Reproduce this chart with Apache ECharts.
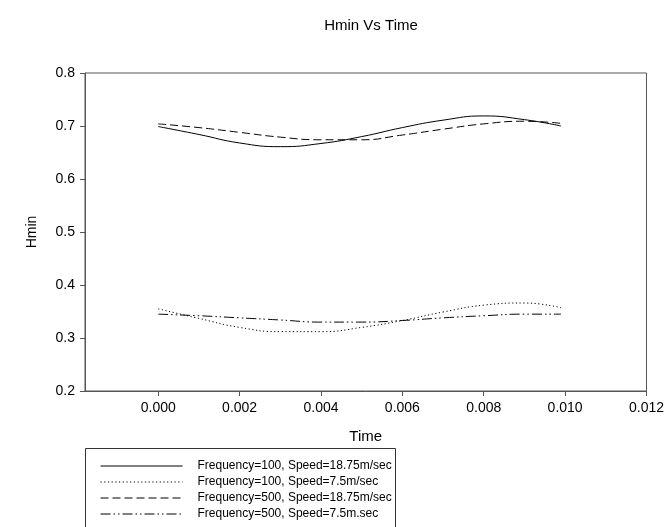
<!DOCTYPE html>
<html>
<head>
    <meta charset="UTF-8"/>
    <title>Hmin Vs Time</title>
    <script type="text/javascript" src="https://cdn.jsdelivr.net/npm/echarts@6/dist/echarts.min.js"></script>
    <style>
        html, body { margin: 0; padding: 0; background: #fff; }
        #chart { width: 667px; height: 527px; }
    </style>
</head>
<body>
<div id="chart"></div>
<script>
    // time samples (s)
    var time = [0, 0.001, 0.002, 0.003, 0.004, 0.005, 0.006, 0.007, 0.008, 0.009, 0.0099];
    // Hmin values
    var f100s1875 = [0.699, 0.684, 0.668, 0.661, 0.667, 0.680, 0.697, 0.711, 0.719, 0.712, 0.700];
    var f100s75   = [0.355, 0.337, 0.320, 0.312, 0.312, 0.320, 0.333, 0.349, 0.362, 0.366, 0.357];
    var f500s1875 = [0.704, 0.697, 0.688, 0.679, 0.674, 0.674, 0.683, 0.694, 0.704, 0.709, 0.705];
    var f500s75   = [0.345, 0.342, 0.338, 0.334, 0.330, 0.330, 0.333, 0.338, 0.342, 0.345, 0.345];
    var names = [
        'Frequency=100, Speed=18.75m/sec',
        'Frequency=100, Speed=7.5m/sec',
        'Frequency=500, Speed=18.75m/sec',
        'Frequency=500, Speed=7.5m.sec'
    ];
    var xTicks = [0, 0.002, 0.004, 0.006, 0.008, 0.010, 0.012];

    var font = 'Liberation Sans';
    function pairs(ys) {
        var out = [];
        for (var i = 0; i < time.length; i++) out.push([time[i], ys[i]]);
        return out;
    }
    function line(name, ys, dash) {
        return {
            name: name,
            type: 'line',
            smooth: true,
            symbol: 'none',
            data: pairs(ys),
            lineStyle: {color: '#000', width: 1, type: dash},
            itemStyle: {color: '#000'}
        };
    }

    var chart = echarts.init(document.getElementById('chart'));
    chart.setOption({
        animation: false,
        title: {
            text: 'Hmin Vs Time',
            left: 366, top: 13, textAlign: 'center',
            textStyle: {fontFamily: font, fontSize: 15, fontWeight: 'normal', color: '#000'}
        },
        grid: {
            left: 85, right: 20, top: 73, bottom: 136,
            show: true, borderColor: '#555', borderWidth: 1
        },
        xAxis: {
            type: 'value',
            min: -0.0018, max: 0.012,
            name: 'Time', nameLocation: 'middle', nameGap: 38,
            nameTextStyle: {fontFamily: font, fontSize: 15, color: '#000'},
            axisLine: {show: true, onZero: false, lineStyle: {color: '#555'}},
            axisTick: {show: true, length: 5, customValues: xTicks, lineStyle: {color: '#555'}},
            axisLabel: {
                customValues: xTicks, margin: 10,
                fontFamily: font, fontSize: 14, color: '#000',
                formatter: function (v) { return v.toFixed(3); }
            },
            splitLine: {show: false}
        },
        yAxis: {
            type: 'value',
            min: 0.2, max: 0.8, interval: 0.1,
            name: 'Hmin', nameLocation: 'middle', nameGap: 46, nameRotate: 90,
            nameTextStyle: {fontFamily: font, fontSize: 14, color: '#000'},
            axisLine: {show: true, onZero: false, lineStyle: {color: '#555'}},
            axisTick: {show: true, length: 5, lineStyle: {color: '#555'}},
            axisLabel: {
                margin: 10, fontFamily: font, fontSize: 14, color: '#000',
                formatter: function (v) { return v.toFixed(1); }
            },
            splitLine: {show: false}
        },
        legend: {
            data: names,
            orient: 'vertical',
            left: 95, top: 455, height: 80,
            itemWidth: 82, itemHeight: 12, itemGap: 4,
            itemStyle: {color: 'transparent', borderWidth: 0},
            lineStyle: {width: 1},
            textStyle: {fontFamily: font, fontSize: 12, color: '#000', padding: [0, 0, 0, 10]},
            selectedMode: false
        },
        graphic: [{
            type: 'rect',
            shape: {x: 85.5, y: 448.5, width: 310, height: 100},
            style: {fill: 'none', stroke: '#333', lineWidth: 1},
            silent: true
        }],
        series: [
            line(names[0], f100s1875, 'solid'),
            line(names[1], f100s75, [1.2, 2.5]),
            line(names[2], f500s1875, [8, 4]),
            line(names[3], f500s75, [10, 3, 1.5, 3, 1.5, 3])
        ]
    });
</script>
</body>
</html>
